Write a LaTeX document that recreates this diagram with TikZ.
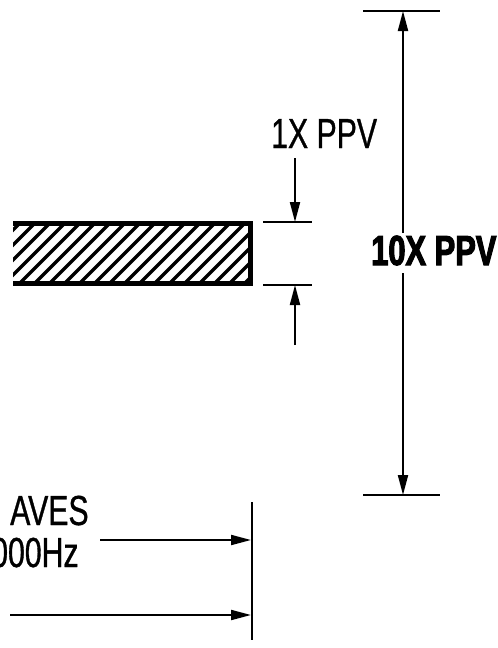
\documentclass[tikz,border=0pt]{standalone}
\usepackage{fontspec}
\usepackage{tikz}
\usetikzlibrary{arrows.meta}
\newfontfamily\labelfont[FakeStretch=0.72,FakeBold=0.8]{Liberation Sans}
\newfontfamily\labelboldfont[FakeStretch=0.735,FakeBold=2.5]{Liberation Sans Bold}

\begin{document}
\begin{tikzpicture}[x=1pt,y=-1pt,
        lab/.style={font=\labelfont\fontsize{42}{48}\selectfont,inner sep=0pt,anchor=base west},
        boldlab/.style={lab,font=\labelboldfont\fontsize{42}{48}\selectfont},
        dim/.style={line width=2pt},
        dimarrow/.style={line width=2pt,-{Triangle[length=20pt,width=10pt]}},
        hatch/.style={line width=3.5pt}]
      \useasboundingbox (0,0) rectangle (498,648);
      \clip (0,0) rectangle (498,648);
      % hatched bar
      \begin{scope}
        \clip (13,224) rectangle (248,283);
        \foreach \i in {-6,...,18}
          \draw[hatch] (13+15*\i,290) -- ++(75,-75);
      \end{scope}
      \draw[line width=5pt] (13,223.5) -- (250,223.5) -- (250,283.5) -- (13,283.5);
      % 1X PPV
      \coordinate (e1) at (295,222);
      \coordinate (e2) at (295,285);
      \draw[dim] (263,222) -- (312,222) (263,285) -- (312,285);
      \node[lab] (one) at (271,148) {1X PPV};
      \coordinate (a1) at (295,158);
      \coordinate (a2) at (295,345);
      \draw[dimarrow] (a1) -- (e1);
      \draw[dimarrow] (a2) -- (e2);
      % 10X PPV
      \coordinate (t1) at (403,11);
      \coordinate (t2) at (403,495);
      \draw[dim] (363,11) -- (440,11) (363,495) -- (440,495);
      \node[boldlab] (ten) at (371,265) {10X PPV};
      \coordinate (b1) at (403,233);
      \coordinate (b2) at (403,273);
      \draw[dimarrow] (b1) -- (t1);
      \draw[dimarrow] (b2) -- (t2);
      % incoming waves
      \node[lab] (w1) at (10,525) {AVES};
      \node[lab] (w2) at (-9,567) {000Hz};
      \coordinate (s1) at (100,540);
      \coordinate (s2) at (10,615);
      \coordinate (p1) at (251,540);
      \coordinate (p2) at (251,615);
      \draw[line width=2.5pt] (252,502) -- (252,640);
      \draw[dimarrow] (s1) -- (p1);
      \draw[dimarrow] (s2) -- (p2);
    \end{tikzpicture}
\end{document}
